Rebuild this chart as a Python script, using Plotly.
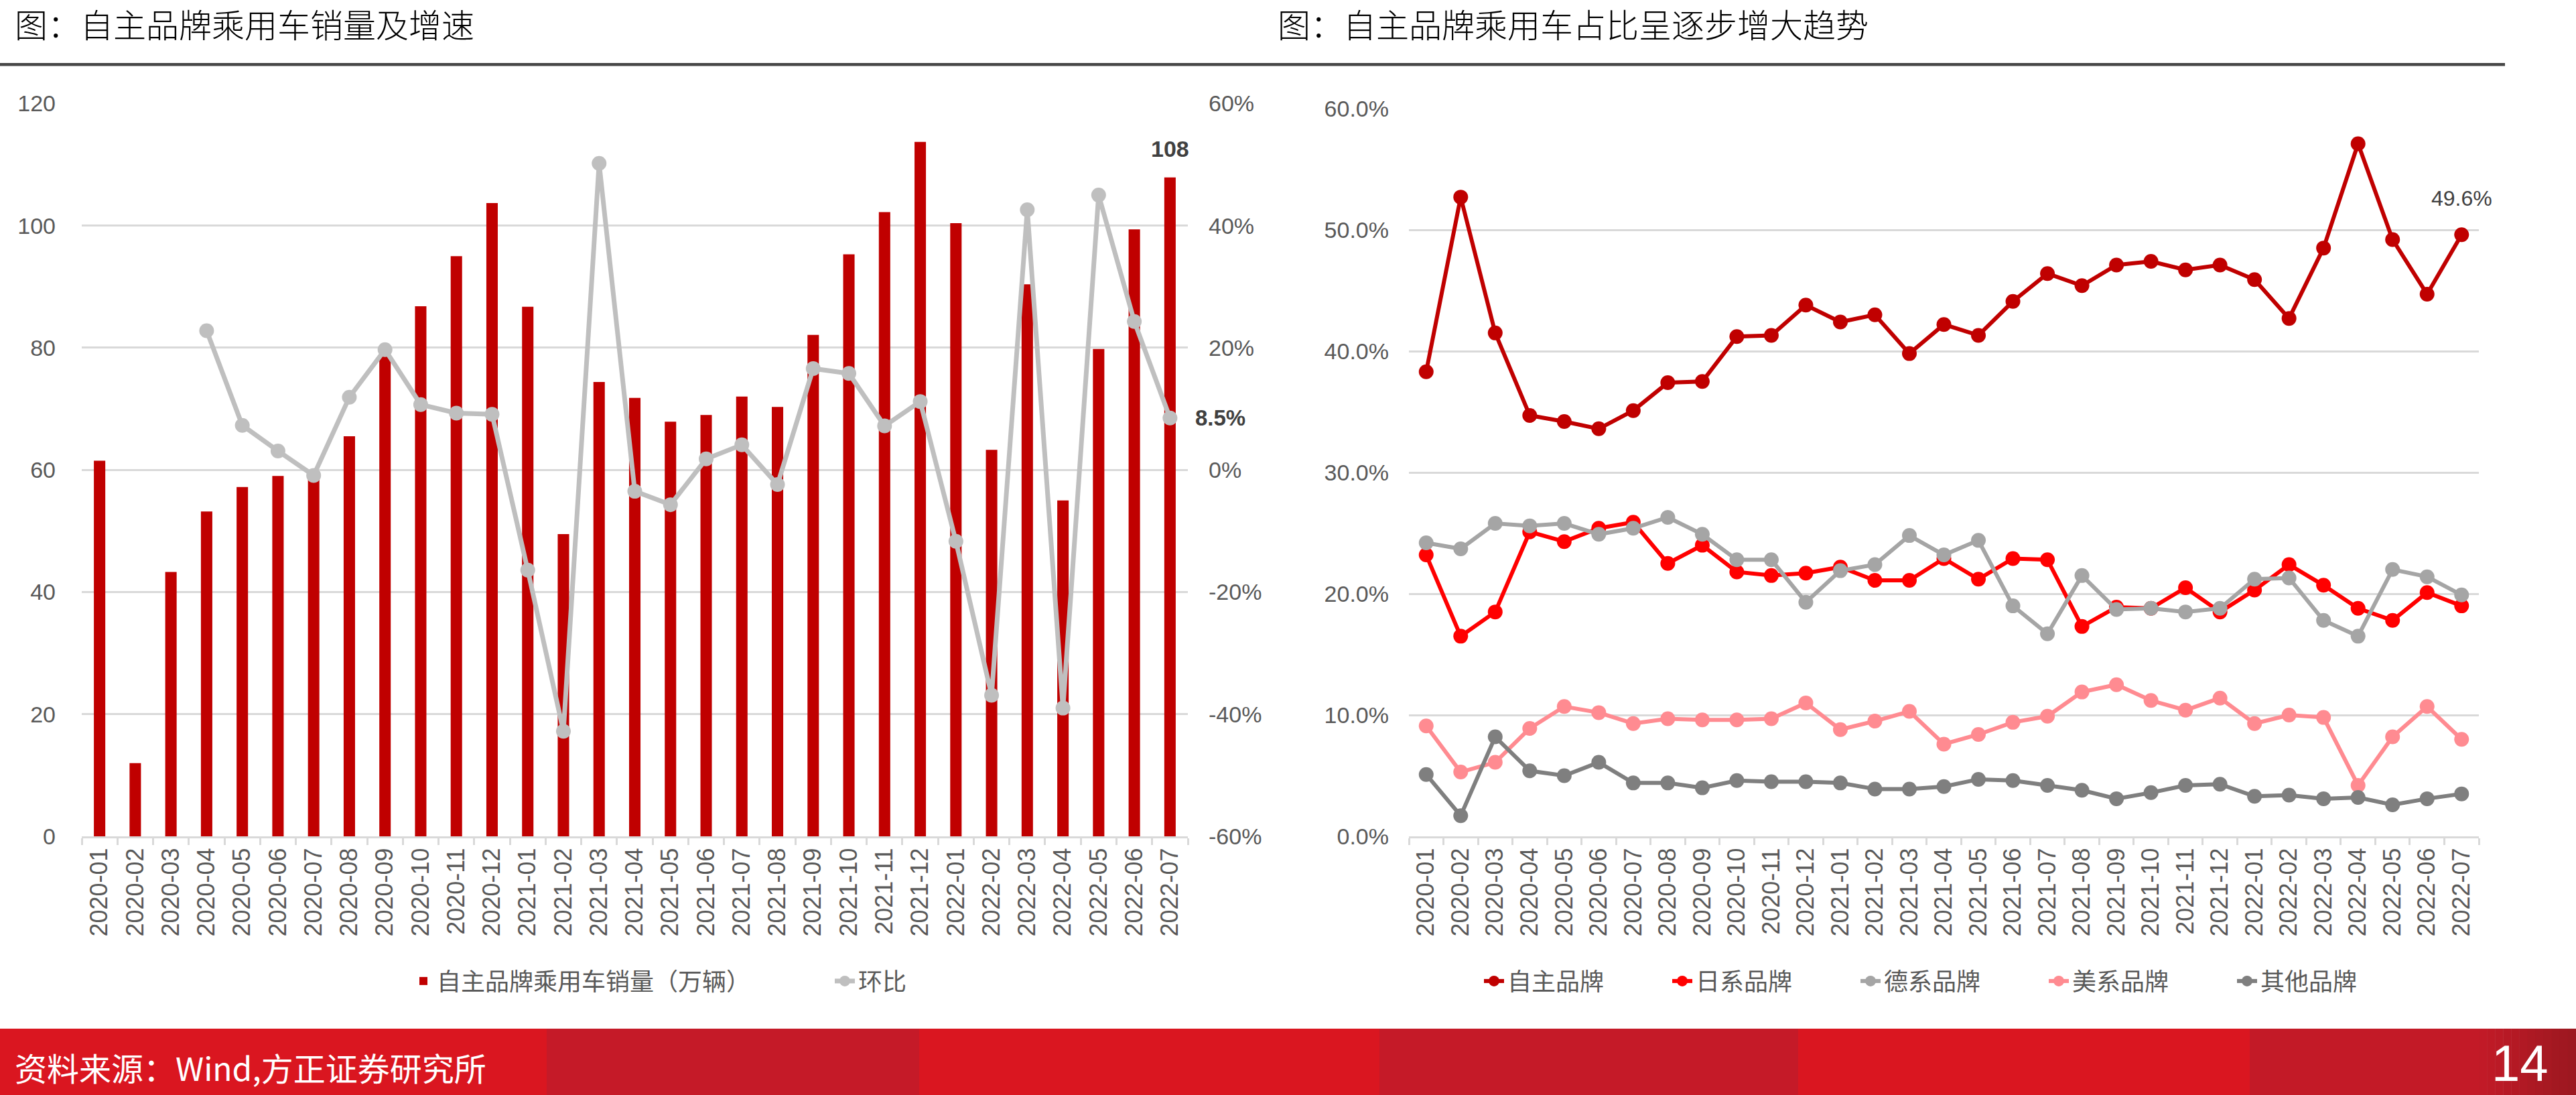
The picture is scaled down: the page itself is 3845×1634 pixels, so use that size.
import plotly.graph_objects as go

W, H = 3845, 1634

months = ["2020-01", "2020-02", "2020-03", "2020-04", "2020-05", "2020-06", "2020-07",
          "2020-08", "2020-09", "2020-10", "2020-11", "2020-12",
          "2021-01", "2021-02", "2021-03", "2021-04", "2021-05", "2021-06", "2021-07",
          "2021-08", "2021-09", "2021-10", "2021-11", "2021-12",
          "2022-01", "2022-02", "2022-03", "2022-04", "2022-05", "2022-06", "2022-07"]

# 自主品牌乘用车销量（万辆）
sales = [61.5, 12.0, 43.3, 53.2, 57.2, 59.0, 58.8, 65.5, 78.6, 86.8, 95.0, 103.7,
         86.7, 49.5, 74.4, 71.8, 67.9, 69.0, 72.0, 70.3, 82.1, 95.3, 102.2, 113.7,
         100.4, 63.3, 90.4, 55.0, 79.8, 99.4, 107.9]
# 环比 (%)
mom = [None, None, None, 22.8, 7.3, 3.1, -0.9, 11.9, 19.7, 10.7, 9.3, 9.1,
       -16.4, -42.8, 50.2, -3.5, -5.7, 1.8, 4.1, -2.4, 16.6, 15.8, 7.2, 11.2,
       -11.7, -36.9, 42.6, -39.0, 45.0, 24.3, 8.5]

# 市场占比 (%)
share_zizhu = [38.3, 52.7, 41.5, 34.7, 34.2, 33.6, 35.1, 37.4, 37.5, 41.2, 41.3, 43.8,
               42.4, 43.0, 39.8, 42.2, 41.3, 44.1, 46.4, 45.4, 47.1, 47.4, 46.7, 47.1,
               45.9, 42.7, 48.5, 57.1, 49.2, 44.7, 49.6]
share_riben = [23.2, 16.5, 18.5, 25.1, 24.3, 25.4, 25.9, 22.5, 24.0, 21.8, 21.5, 21.7,
               22.2, 21.1, 21.1, 22.9, 21.2, 22.9, 22.8, 17.3, 18.9, 18.8, 20.5, 18.5,
               20.3, 22.4, 20.7, 18.8, 17.8, 20.1, 19.0]
share_dexi = [24.2, 23.7, 25.8, 25.6, 25.8, 24.9, 25.4, 26.3, 24.9, 22.8, 22.8, 19.3,
              21.9, 22.4, 24.8, 23.2, 24.4, 19.0, 16.7, 21.5, 18.7, 18.8, 18.5, 18.8,
              21.2, 21.3, 17.8, 16.5, 22.0, 21.4, 19.9]
share_meixi = [9.1, 5.3, 6.1, 8.9, 10.7, 10.2, 9.3, 9.7, 9.6, 9.6, 9.7, 11.0,
               8.8, 9.5, 10.3, 7.6, 8.4, 9.4, 9.9, 11.9, 12.5, 11.2, 10.4, 11.4,
               9.3, 10.0, 9.8, 4.2, 8.2, 10.7, 8.0]
share_qita = [5.1, 1.7, 8.2, 5.4, 5.0, 6.1, 4.4, 4.4, 4.0, 4.6, 4.5, 4.5,
              4.4, 3.9, 3.9, 4.1, 4.7, 4.6, 4.2, 3.8, 3.1, 3.6, 4.2, 4.3,
              3.3, 3.4, 3.1, 3.2, 2.6, 3.1, 3.5]

left_y_ticks = [0, 20, 40, 60, 80, 100, 120]
left_y2_ticks = [-60, -40, -20, 0, 20, 40, 60]
left_y2_text = ["-60%", "-40%", "-20%", "0%", "20%", "40%", "60%"]
right_y_ticks = [0, 10, 20, 30, 40, 50, 60]
right_y_text = ["0.0%", "10.0%", "20.0%", "30.0%", "40.0%", "50.0%", "60.0%"]

title_left = "图：自主品牌乘用车销量及增速"
title_right = "图：自主品牌乘用车占比呈逐步增大趋势"
source_text = "资料来源：Wind,方正证券研究所"
page_no = "14"

NUM_FONT = "Liberation Sans, Arial, sans-serif"
CJK_FONT = "Noto Sans CJK SC, sans-serif"
GRAY_TXT = "#595959"
GRID = "#D9D9D9"


def px(x):
    return x / W


def py(y):
    return 1 - y / H


fig = go.Figure()

# ---- left chart ----
fig.add_trace(go.Bar(
    x=months, y=sales, name="自主品牌乘用车销量（万辆）",
    marker=dict(color="#C00000", line=dict(width=0)), width=0.32,
    xaxis="x", yaxis="y", legend="legend"))
fig.add_trace(go.Scatter(
    x=months, y=mom, name="环比", mode="lines+markers",
    line=dict(color="#BFBFBF", width=7), marker=dict(size=22, color="#BFBFBF"),
    xaxis="x", yaxis="y2", legend="legend"))

# ---- right chart ----
series = [
    ("自主品牌", share_zizhu, "#C00000"),
    ("日系品牌", share_riben, "#FF0000"),
    ("德系品牌", share_dexi, "#A5A5A5"),
    ("美系品牌", share_meixi, "#FF8B91"),
    ("其他品牌", share_qita, "#7F7F7F"),
]
for name, vals, col in series:
    fig.add_trace(go.Scatter(
        x=months, y=vals, name=name, mode="lines+markers",
        line=dict(color=col, width=6), marker=dict(size=22, color=col),
        xaxis="x2", yaxis="y3", legend="legend2"))

plot_bottom = py(1248)
xrange = [-0.5, len(months) - 0.5]

xcommon = dict(
    type="category", range=xrange, tickangle=-90, ticks="outside", tickson="boundaries",
    ticklen=10, tickwidth=3, tickcolor=GRID, showline=True, linecolor=GRID,
    linewidth=3, showgrid=False, zeroline=False, automargin=False,
    tickfont=dict(family=NUM_FONT, size=36, color=GRAY_TXT),
)

fig.update_layout(
    width=W, height=H, margin=dict(l=0, r=0, t=0, b=0, autoexpand=False),
    paper_bgcolor="white", plot_bgcolor="white", showlegend=True,
    xaxis=dict(domain=[px(122), px(1773)], anchor="y", **xcommon),
    yaxis=dict(domain=[plot_bottom, py(154.4)], range=[0, 120], tickvals=left_y_ticks,
               showgrid=True, gridcolor=GRID, gridwidth=3, zeroline=False,
               showline=False, ticks="", ticklabelstandoff=38, automargin=False,
               tickfont=dict(family=NUM_FONT, size=34, color=GRAY_TXT)),
    yaxis2=dict(overlaying="y", side="right", anchor="x", range=[-60, 60],
                tickvals=left_y2_ticks, ticktext=left_y2_text, showgrid=False,
                zeroline=False, showline=False, ticks="", ticklabelstandoff=30,
                automargin=False,
                tickfont=dict(family=NUM_FONT, size=34, color=GRAY_TXT)),
    xaxis2=dict(domain=[px(2103), px(3700)], anchor="y3", **xcommon),
    yaxis3=dict(domain=[plot_bottom, py(162)], range=[0, 60], tickvals=right_y_ticks,
                ticktext=right_y_text, anchor="x2",
                showgrid=True, gridcolor=GRID, gridwidth=3, zeroline=False,
                showline=False, ticks="", ticklabelstandoff=29, automargin=False,
                tickfont=dict(family=NUM_FONT, size=34, color=GRAY_TXT)),
    legend=dict(orientation="h", x=px(612), y=py(1464), xanchor="left", yanchor="middle",
                bgcolor="rgba(0,0,0,0)", entrywidth=584, entrywidthmode="pixels",
                font=dict(family=CJK_FONT, size=36, color=GRAY_TXT)),
    legend2=dict(orientation="h", x=px(2210), y=py(1464), xanchor="left", yanchor="middle",
                 bgcolor="rgba(0,0,0,0)", entrywidth=236, entrywidthmode="pixels",
                 font=dict(family=CJK_FONT, size=36, color=GRAY_TXT)),
)

# ---- decorations: title underline and footer band ----
shapes = [dict(type="rect", xref="paper", yref="paper", x0=0, x1=px(3739),
               y0=py(98.5), y1=py(94), fillcolor="#474747", line=dict(width=0))]
bands = [(0, 816, "#DA1620"), (816, 1372, "#C51A28"), (1372, 2059, "#DA1620"),
         (2059, 2684, "#C51A28"), (2684, 3358, "#DA1620"), (3358, 3700, "#C31A27")]
for x0, x1, c in bands:
    shapes.append(dict(type="rect", xref="paper", yref="paper", x0=px(x0), x1=px(x1),
                       y0=0, y1=py(1535), fillcolor=c, line=dict(width=0)))
# darkening gradient at the right edge
n = 12
c0 = (0xC3, 0x1A, 0x27)
c1 = (0x9B, 0x18, 0x20)
for i in range(n):
    t = (i + 0.5) / n
    col = "rgb(%d,%d,%d)" % tuple(round(a + (b - a) * t) for a, b in zip(c0, c1))
    xa = 3700 + (W - 3700) * i / n
    xb = 3700 + (W - 3700) * (i + 1) / n + 0.5
    shapes.append(dict(type="rect", xref="paper", yref="paper", x0=px(xa), x1=px(min(xb, W)),
                       y0=0, y1=py(1535), fillcolor=col, line=dict(width=0)))
fig.update_layout(shapes=shapes)

annotations = [
    dict(text=title_left, xref="paper", yref="paper", x=px(20), y=py(34),
         xanchor="left", yanchor="middle", showarrow=False,
         font=dict(family=CJK_FONT, size=49, color="#000000", weight=300)),
    dict(text=title_right, xref="paper", yref="paper", x=px(1905), y=py(34),
         xanchor="left", yanchor="middle", showarrow=False,
         font=dict(family=CJK_FONT, size=49, color="#000000", weight=300)),
    dict(text=source_text, xref="paper", yref="paper", x=px(20), y=py(1592),
         xanchor="left", yanchor="middle", showarrow=False,
         font=dict(family=CJK_FONT, size=48, color="#FFFFFF")),
    dict(text=page_no, xref="paper", yref="paper", x=px(3806), y=py(1586),
         xanchor="right", yanchor="middle", showarrow=False,
         font=dict(family=NUM_FONT, size=76, color="#FFFFFF")),
    # data labels
    dict(text="%d" % round(sales[-1]), xref="x", yref="y", x=months[-1], y=sales[-1],
         yshift=43, showarrow=False, xanchor="center", yanchor="middle",
         font=dict(family=NUM_FONT, size=34, color="#404040", weight="bold")),
    dict(text="%.1f%%" % mom[-1], xref="x", yref="y2", x=months[-1], y=mom[-1],
         xshift=36, showarrow=False, xanchor="left", yanchor="middle",
         font=dict(family=NUM_FONT, size=33, color="#404040", weight="bold")),
    dict(text="%.1f%%" % share_zizhu[-1], xref="x2", yref="y3", x=months[-1], y=share_zizhu[-1],
         yshift=54, showarrow=False, xanchor="center", yanchor="middle",
         font=dict(family=NUM_FONT, size=32, color="#404040")),
]
fig.update_layout(annotations=annotations)

fig.write_html("out.html")
